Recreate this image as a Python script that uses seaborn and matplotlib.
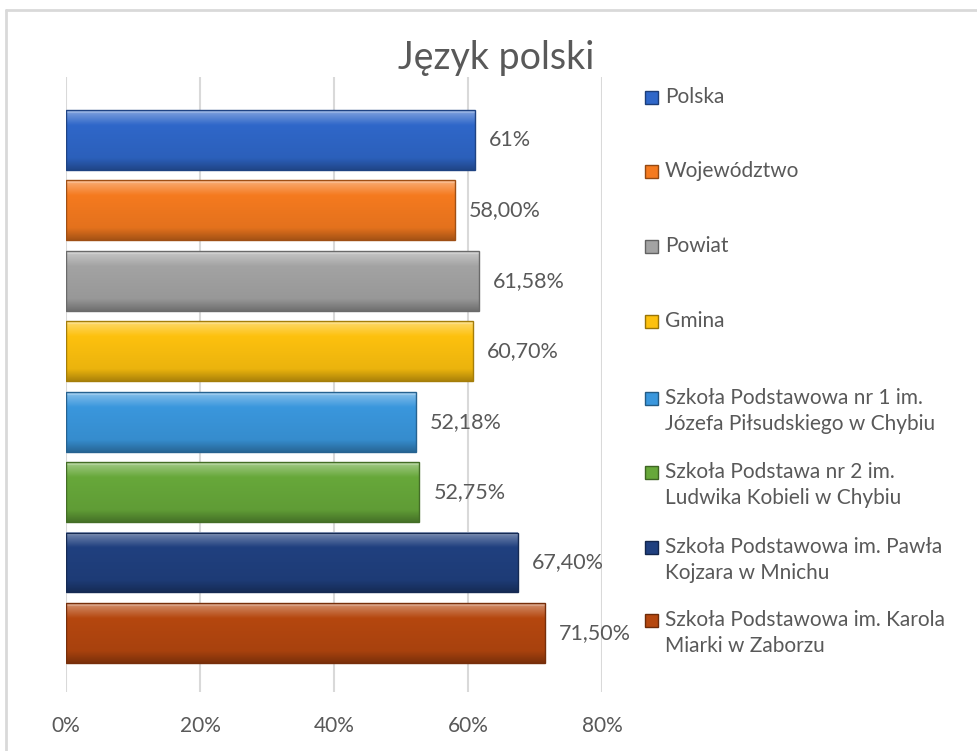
import numpy as np
import pandas as pd
import matplotlib
matplotlib.use("Agg")
import matplotlib.pyplot as plt
import matplotlib.colors as mcolors
from matplotlib.lines import Line2D
from matplotlib.patches import Rectangle
import seaborn as sns

# dane z wykresu
kategorie = [
    "Polska",
    "Województwo",
    "Powiat",
    "Gmina",
    "Szkoła Podstawowa nr 1 im.\nJózefa Piłsudskiego w Chybiu",
    "Szkoła Podstawa nr 2 im.\nLudwika Kobieli w Chybiu",
    "Szkoła Podstawowa im. Pawła\nKojzara w Mnichu",
    "Szkoła Podstawowa im. Karola\nMiarki w Zaborzu",
]
wyniki = [61.0, 58.00, 61.58, 60.70, 52.18, 52.75, 67.40, 71.50]
etykiety = ["61%", "58,00%", "61,58%", "60,70%", "52,18%", "52,75%", "67,40%", "71,50%"]
kolory = ["#2f67c9", "#f57a1f", "#a3a3a3", "#fdc10e",
          "#3a97dd", "#67a83a", "#20407f", "#b5470f"]
osie_x = [0, 20, 40, 60, 80]
tytul = "Język polski"

SZARY = "#595959"

sns.set_style("white")
plt.rcParams["font.family"] = ["Lato", "DejaVu Sans"]

W, H = 977, 751
fig = plt.figure(figsize=(W / 100, H / 100), dpi=100)
ax = fig.add_axes([66 / W, 1 - 692 / H, (602 - 66) / W, (692 - 77) / H])

df = pd.DataFrame({"kategoria": kategorie, "wynik": wyniki})
sns.barplot(data=df, x="wynik", y="kategoria", hue="kategoria",
            palette=kolory, orient="h", width=0.85, legend=False,
            saturation=1, ax=ax, zorder=2)


def cieniowanie(kolor, n=80):
    # pionowy gradient imitujacy efekt skosu z Excela
    base = np.array(mcolors.to_rgb(kolor))
    rows = []
    for t in np.linspace(0, 1, n):
        if t < 0.05:
            c = base + (1 - base) * 0.5
        elif t < 0.25:
            k = 0.32 * (0.25 - t) / 0.2
            c = base + (1 - base) * k
        elif t < 0.8:
            c = base * (1 - 0.07 * (t - 0.25) / 0.55)
        else:
            c = base * (0.93 - 0.25 * (t - 0.8) / 0.2)
        rows.append(np.clip(c, 0, 1))
    return np.array(rows)[:, None, :]


for kont, kol, lab in zip(ax.containers, kolory, etykiety):
    for p in kont:
        x0, y0, w, h = p.get_x(), p.get_y(), p.get_width(), p.get_height()
        ax.imshow(cieniowanie(kol), extent=(x0, x0 + w, y0 + h, y0),
                  aspect="auto", zorder=2.5, interpolation="bilinear")
        p.set_edgecolor(np.array(mcolors.to_rgb(kol)) * 0.65)
        p.set_linewidth(1.0)
        p.set_zorder(3)
        p.set_facecolor("none")
    ax.bar_label(kont, labels=[lab], padding=10, fontsize=15.5, color=SZARY)

ax.set_xlim(0, 80)
ax.set_ylim(7.84, -0.895)
ax.set_xticks(osie_x)
ax.set_xticklabels([f"{v}%" for v in osie_x], fontsize=15, color=SZARY)
ax.set_yticks([])
ax.set_xlabel("")
ax.set_ylabel("")
ax.tick_params(axis="x", length=0, pad=17)
ax.grid(axis="x", color="#d9d9d9", linewidth=1.5, zorder=0)
ax.set_axisbelow(True)
for s in ax.spines.values():
    s.set_visible(False)

# tytul
fig.text(496 / W, 1 - 58 / H, tytul, ha="center", va="center",
         fontsize=27, color=SZARY)

# legenda rysowana recznie (Excel rozmieszcza wpisy rowno)
leg_y = [97, 171, 246, 321, 398, 472, 547, 620]
for yy, kol, nazwa in zip(leg_y, kolory, kategorie):
    kw = np.array(mcolors.to_rgb(kol))
    fig.patches.append(Rectangle((645 / W, 1 - (yy + 7) / H), 13 / W, 13 / H,
                                 transform=fig.transFigure, facecolor=kol,
                                 edgecolor=kw * 0.6, linewidth=1))
    for i, linia in enumerate(nazwa.split("\n")):
        fig.text(665 / W, 1 - (yy + i * 26) / H, linia, ha="left",
                 va="center", fontsize=15, color=SZARY)

# ramka wykresu (gora i lewa strona)
fig.add_artist(Line2D([6 / W, 1], [1 - 10 / H, 1 - 10 / H],
                      transform=fig.transFigure, color="#d9d9d9", linewidth=2))
fig.add_artist(Line2D([6 / W, 6 / W], [0, 1 - 10 / H],
                      transform=fig.transFigure, color="#d9d9d9", linewidth=2))

fig.savefig("out.png", dpi=100)
